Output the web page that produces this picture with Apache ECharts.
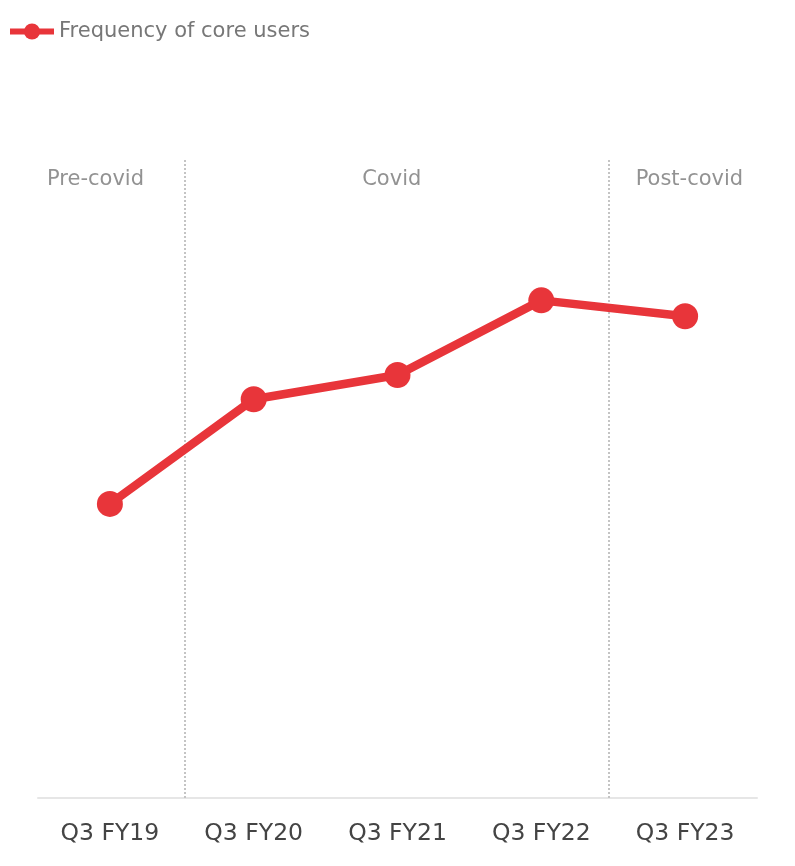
<!DOCTYPE html>
<html>
<head>
<meta charset="utf-8">
<script src="https://cdn.jsdelivr.net/npm/echarts@6/dist/echarts.min.js"></script>
<style>
  html, body { margin: 0; padding: 0; background: #fff; }
  #chart { width: 795px; height: 866px; }
</style>
</head>
<body>
<div id="chart"></div>
<script>
// Quarterly categories and the frequency index of core users
const categories = ['Q3 FY19', 'Q3 FY20', 'Q3 FY21', 'Q3 FY22', 'Q3 FY23'];
const frequency = [46.1, 62.5, 66.3, 78.0, 75.5];

// Period boundaries (in category-index units) and period labels
const periodBreaks = [0.52, 3.47];
const periodNames = ['Pre-covid', 'Covid', 'Post-covid'];
const periodLabelPos = [-0.1, 1.96, 4.03];
const periodLabelY = 96.9;

const FONT = 'DejaVu Sans, Verdana, sans-serif';
const RED = '#e8353a';

const chart = echarts.init(document.getElementById('chart'), null, { renderer: 'canvas' });

chart.setOption({
  animation: false,
  backgroundColor: '#fff',
  textStyle: { fontFamily: FONT },
  legend: {
    left: 2,
    top: 16,
    itemWidth: 44,
    itemHeight: 20,
    itemGap: 10,
    data: ['Frequency of core users'],
    lineStyle: { width: 6 },
    textStyle: { color: '#777', fontSize: 21, fontFamily: FONT }
  },
  grid: { left: 38, right: 38, top: 160, bottom: 68 },
  xAxis: [
    {
      type: 'category',
      data: categories,
      boundaryGap: true,
      axisLine: { lineStyle: { color: '#e6e6e6', width: 2 } },
      axisTick: { show: false },
      axisLabel: { color: '#444', fontSize: 23.5, margin: 24, fontFamily: FONT }
    },
    {
      type: 'value',
      min: -0.5,
      max: 4.5,
      show: false
    }
  ],
  yAxis: {
    type: 'value',
    min: 0,
    max: 100,
    show: false,
    splitLine: { show: false }
  },
  series: [
    {
      name: 'Frequency of core users',
      type: 'line',
      data: frequency,
      symbol: 'circle',
      symbolSize: 26,
      lineStyle: { color: RED, width: 8.5 },
      itemStyle: { color: RED },
      z: 5
    },
    {
      name: 'periods',
      type: 'scatter',
      xAxisIndex: 1,
      symbolSize: 0,
      silent: true,
      data: periodNames.map((n, i) => ({ value: [periodLabelPos[i], periodLabelY], name: n })),
      label: {
        show: true,
        position: 'inside',
        formatter: p => p.name,
        color: '#777',
        fontSize: 21,
        fontFamily: FONT
      },
      markLine: {
        silent: true,
        symbol: 'none',
        label: { show: false },
        lineStyle: { color: '#c4c4c4', type: [2, 2], width: 2 },
        data: periodBreaks.map(v => ({ xAxis: v }))
      },
      z: 1
    }
  ]
});
</script>
</body>
</html>
